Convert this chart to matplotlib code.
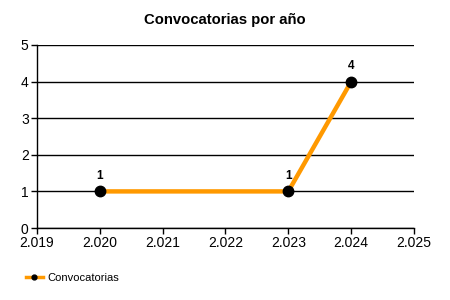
import matplotlib
matplotlib.use("Agg")
import matplotlib.pyplot as plt
from matplotlib.lines import Line2D

years = [2020, 2023, 2024]
counts = [1, 1, 4]
xticks = [2019, 2020, 2021, 2022, 2023, 2024, 2025]
xticklabels = ["2.019", "2.020", "2.021", "2.022", "2.023", "2.024", "2.025"]
yticks = [0, 1, 2, 3, 4, 5]
series_name = "Convocatorias"
title = "Convocatorias por año"

plt.rcParams['font.family'] = ['Liberation Sans', 'DejaVu Sans']

fig = plt.figure(figsize=(4.5, 3), dpi=100)
ax = fig.add_axes([37/450, 1 - 228/300, (414 - 37)/450, (228 - 45)/300])

ax.plot(years, counts, color='#FF9900', linewidth=3.2, marker='o',
        markersize=7.5, markerfacecolor='black', markeredgecolor='black',
        solid_capstyle='butt', zorder=3, label=series_name)
for x, y in zip(years, counts):
    ax.annotate(str(y), (x, y), xytext=(0, 7), textcoords='offset points',
                ha='center', va='bottom', fontsize=8.5, fontweight='bold')

ax.set_xlim(2019, 2025)
ax.set_ylim(0, 5)
ax.set_xticks(xticks)
ax.set_xticklabels(xticklabels)
ax.set_yticks(yticks)
ax.tick_params(axis='both', labelsize=10, length=4, width=1, direction='out', pad=2)
ax.grid(axis='y', color='black', linewidth=1)
ax.set_axisbelow(True)
for s in ['top', 'right']:
    ax.spines[s].set_visible(False)
for s in ['left', 'bottom']:
    ax.spines[s].set_linewidth(1)

fig.text(0.5, 1 - 20/300, title, ha='center', va='center', fontsize=10.7, fontweight='bold')

h = Line2D([], [], color='#FF9900', linewidth=2.5, marker='o', markersize=3.5,
           markerfacecolor='black', markeredgecolor='black')
fig.legend([h], [series_name], loc='center left', bbox_to_anchor=(20/450, 1 - 278/300),
           frameon=False, fontsize=8, handlelength=1.6, handletextpad=0.4, borderpad=0)

fig.savefig('out.png', dpi=100)
